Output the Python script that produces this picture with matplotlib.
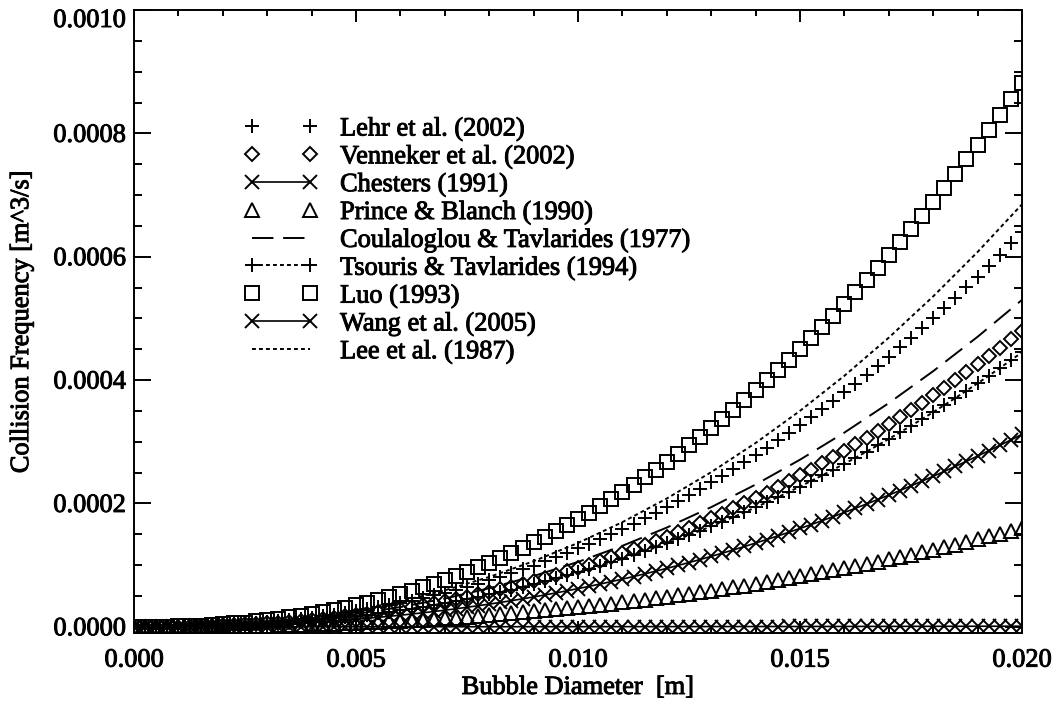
import numpy as np
import matplotlib
matplotlib.use('Agg')
from matplotlib import pyplot as plt
from matplotlib import patheffects
from matplotlib.ticker import MultipleLocator, FormatStrFormatter

plt.rcParams['font.family'] = ['Liberation Serif', 'DejaVu Serif']
plt.rcParams['font.size'] = 19

# bubble diameter [mm], one sample every 0.25 mm
diameter_mm = [0.0, 0.25, 0.5, 0.75, 1.0, 1.25, 1.5, 1.75, 2.0, 2.25,
               2.5, 2.75, 3.0, 3.25, 3.5, 3.75, 4.0, 4.25, 4.5, 4.75,
               5.0, 5.25, 5.5, 5.75, 6.0, 6.25, 6.5, 6.75, 7.0, 7.25,
               7.5, 7.75, 8.0, 8.25, 8.5, 8.75, 9.0, 9.25, 9.5, 9.75,
               10.0, 10.25, 10.5, 10.75, 11.0, 11.25, 11.5, 11.75, 12.0, 12.25,
               12.5, 12.75, 13.0, 13.25, 13.5, 13.75, 14.0, 14.25, 14.5, 14.75,
               15.0, 15.25, 15.5, 15.75, 16.0, 16.25, 16.5, 16.75, 17.0, 17.25,
               17.5, 17.75, 18.0, 18.25, 18.5, 18.75, 19.0, 19.25, 19.5, 19.75,
               20.0]
# coarser grid for the curves drawn without symbols
diameter_line_mm = [0, 1, 2, 3, 4, 5, 6, 7, 8, 9, 10,
                    11, 12, 13, 14, 15, 16, 17, 18, 19, 20]

# collision frequency, in units of 1e-6 m^3/s
lehr = [0.0, 0.02, 0.12, 0.30, 0.59, 0.99, 1.52, 2.18, 2.97, 3.91,
        5.00, 6.25, 7.65, 9.22, 10.96, 12.88, 14.97, 17.25, 19.71, 22.36,
        25.20, 28.24, 31.48, 34.91, 38.56, 42.41, 46.48, 50.76, 55.25, 59.96,
        64.90, 70.08, 75.46, 81.09, 86.91, 92.99, 99.33, 105.9, 112.6, 119.7,
        127.0, 134.5, 142.3, 150.3, 158.6, 167.2, 175.9, 185.0, 194.3, 203.9,
        213.8, 223.9, 234.2, 244.9, 255.8, 267.0, 278.5, 290.2, 302.2, 314.5,
        327.1, 340.0, 353.1, 366.5, 380.2, 394.2, 408.6, 423.1, 438.0, 453.2,
        468.7, 484.4, 500.5, 516.9, 533.6, 550.5, 567.8, 585.4, 603.3, 621.5,
        640.0]
venneker = [0.0, 0.02, 0.09, 0.23, 0.44, 0.74, 1.14, 1.63, 2.23, 2.93,
            3.75, 4.68, 5.74, 6.92, 8.22, 9.66, 11.23, 12.94, 14.78, 16.77,
            18.90, 21.18, 23.61, 26.18, 28.92, 31.81, 34.86, 38.07, 41.44, 44.97,
            48.67, 52.56, 56.59, 60.82, 65.18, 69.74, 74.50, 79.39, 84.48, 89.76,
            95.23, 100.9, 106.8, 112.8, 118.9, 125.4, 132.0, 138.8, 145.7, 152.9,
            160.3, 167.9, 175.7, 183.6, 191.9, 200.3, 208.8, 217.6, 226.7, 235.9,
            245.3, 255.0, 264.8, 274.9, 285.2, 295.7, 306.4, 317.3, 328.5, 339.9,
            351.5, 363.3, 375.4, 387.6, 400.2, 412.9, 425.9, 439.1, 452.4, 466.1,
            480.0]
chesters = [0.0, 0.01, 0.06, 0.15, 0.29, 0.48, 0.74, 1.06, 1.45, 1.91,
            2.44, 3.04, 3.73, 4.50, 5.34, 6.28, 7.30, 8.41, 9.61, 10.90,
            12.28, 13.77, 15.34, 17.02, 18.80, 20.68, 22.66, 24.74, 26.93, 29.23,
            31.64, 34.16, 36.78, 39.53, 42.37, 45.33, 48.42, 51.60, 54.91, 58.34,
            61.90, 65.58, 69.39, 73.29, 77.31, 81.49, 85.77, 90.20, 94.72, 99.40,
            104.2, 109.1, 114.2, 119.4, 124.7, 130.2, 135.8, 141.5, 147.3, 153.3,
            159.5, 165.7, 172.1, 178.7, 185.4, 192.2, 199.2, 206.3, 213.5, 220.9,
            228.5, 236.2, 244.0, 252.0, 260.1, 268.4, 276.8, 285.4, 294.1, 303.0,
            312.0]
prince_blanch = [0.0, 0.01, 0.03, 0.08, 0.15, 0.25, 0.38, 0.54, 0.74, 0.98,
                 1.25, 1.56, 1.91, 2.31, 2.74, 3.22, 3.74, 4.31, 4.93, 5.59,
                 6.30, 7.06, 7.87, 8.73, 9.64, 10.60, 11.62, 12.69, 13.81, 14.99,
                 16.22, 17.52, 18.86, 20.27, 21.73, 23.25, 24.83, 26.46, 28.16, 29.92,
                 31.74, 33.63, 35.58, 37.58, 39.65, 41.79, 43.98, 46.26, 48.58, 50.98,
                 53.44, 55.97, 58.56, 61.22, 63.95, 66.75, 69.62, 72.54, 75.55, 78.62,
                 81.78, 84.99, 88.27, 91.63, 95.06, 98.56, 102.1, 105.8, 109.5, 113.3,
                 117.2, 121.1, 125.1, 129.2, 133.4, 137.6, 141.9, 146.4, 150.8, 155.4,
                 160.0]
coulaloglou = [0.0, 0.49, 2.46, 6.34, 12.40, 20.87, 31.93, 45.75, 62.49, 82.26,
               105.2, 131.3, 160.9, 194.0, 230.6, 270.9, 314.9, 362.7, 414.5, 470.2,
               530.0]
tsouris = [0.0, 0.02, 0.08, 0.21, 0.41, 0.69, 1.06, 1.51, 2.07, 2.72,
           3.48, 4.34, 5.32, 6.41, 7.62, 8.95, 10.41, 11.99, 13.70, 15.54,
           17.52, 19.63, 21.89, 24.27, 26.81, 29.49, 32.32, 35.29, 38.42, 41.69,
           45.12, 48.73, 52.47, 56.38, 60.43, 64.66, 69.06, 73.60, 78.32, 83.22,
           88.29, 93.54, 98.97, 104.5, 110.3, 116.2, 122.3, 128.6, 135.1, 141.8,
           148.6, 155.7, 162.9, 170.3, 177.9, 185.7, 193.6, 201.8, 210.1, 218.7,
           227.4, 236.4, 245.5, 254.9, 264.4, 274.1, 284.1, 294.2, 304.6, 315.1,
           325.9, 336.8, 348.0, 359.4, 371.0, 382.8, 394.8, 407.0, 419.5, 432.1,
           445.0]
luo = [0.0, 0.03, 0.16, 0.41, 0.81, 1.37, 2.09, 3.00, 4.09, 5.38,
       6.88, 8.60, 10.53, 12.70, 15.09, 17.73, 20.61, 23.74, 27.13, 30.77,
       34.68, 38.87, 43.33, 48.06, 53.08, 58.38, 63.98, 69.87, 76.06, 82.54,
       89.33, 96.47, 103.9, 111.6, 119.6, 128.0, 136.7, 145.7, 155.1, 164.7,
       174.8, 185.2, 195.9, 206.9, 218.3, 230.1, 242.2, 254.7, 267.5, 280.7,
       294.3, 308.2, 322.4, 337.1, 352.1, 367.6, 383.3, 399.4, 416.0, 432.9,
       450.3, 468.0, 486.0, 504.5, 523.4, 542.7, 562.4, 582.4, 603.0, 623.8,
       645.2, 666.8, 688.9, 711.5, 734.5, 757.8, 781.6, 805.9, 830.4, 855.5,
       881.0]
wang = [0.0, 0.00, 0.00, 0.00, 0.00, 0.00, 0.00, 0.00, 0.00, 0.01,
        0.01, 0.01, 0.01, 0.01, 0.02, 0.02, 0.02, 0.03, 0.03, 0.03,
        0.04, 0.04, 0.05, 0.05, 0.06, 0.07, 0.07, 0.08, 0.09, 0.09,
        0.10, 0.11, 0.12, 0.13, 0.14, 0.15, 0.16, 0.17, 0.18, 0.19,
        0.20, 0.21, 0.22, 0.23, 0.25, 0.26, 0.27, 0.29, 0.30, 0.32,
        0.33, 0.35, 0.37, 0.38, 0.40, 0.42, 0.44, 0.45, 0.47, 0.49,
        0.51, 0.53, 0.55, 0.57, 0.59, 0.62, 0.64, 0.66, 0.68, 0.71,
        0.73, 0.76, 0.78, 0.81, 0.83, 0.86, 0.89, 0.91, 0.94, 0.97,
        1.00]
lee = [0.0, 0.63, 3.18, 8.19, 16.02, 26.97, 41.27, 59.14, 80.76, 106.3,
       135.9, 169.7, 208.0, 250.7, 298.0, 350.1, 407.0, 468.8, 535.7, 607.7,
       685.0]

d = np.array(diameter_mm) * 1e-3
dl = np.array(diameter_line_mm) * 1e-3
u = 1e-6

fig = plt.figure(figsize=(10.56, 7.04), dpi=100)
ax = fig.add_axes([0.1269, 0.1009, 0.8409, 0.8849])

sym = dict(color='k', mew=1.4, mfc='none')
ax.plot(d, np.array(lehr) * u, ls='none', marker='+', ms=10, label='Lehr et al. (2002)', **sym)
ax.plot(d, np.array(venneker) * u, ls='none', marker='D', ms=7.5, label='Venneker et al. (2002)', **sym)
ax.plot(d, np.array(chesters) * u, ls='-', lw=1.2, marker='x', ms=10, label='Chesters (1991)', **sym)
ax.plot(d, np.array(prince_blanch) * u, ls='none', marker='^', ms=10, label='Prince & Blanch (1990)', **sym)
ax.plot(dl, np.array(coulaloglou) * u, ls=(0, (11, 5)), lw=1.4, color='k',
        label='Coulaloglou & Tavlarides (1977)')
ax.plot(d, np.array(tsouris) * u, ls=(0, (2, 1.6)), lw=1.4, marker='+', ms=10,
        label='Tsouris & Tavlarides (1994)', **sym)
ax.plot(d, np.array(luo) * u, ls='none', marker='s', ms=10.5, label='Luo (1993)', **sym)
ax.plot(d, np.array(wang) * u, ls='-', lw=1.2, marker='x', ms=10, label='Wang et al. (2005)', **sym)
ax.plot(dl, np.array(lee) * u, ls=(0, (2, 1.6)), lw=1.4, color='k', label='Lee et al. (1987)')

ax.set_xlim(0, 0.02)
ax.set_ylim(-1e-5, 1e-3)
ax.xaxis.set_major_locator(MultipleLocator(0.005))
ax.xaxis.set_minor_locator(MultipleLocator(0.001))
ax.yaxis.set_major_locator(MultipleLocator(0.0002))
ax.yaxis.set_minor_locator(MultipleLocator(0.00005))
ax.xaxis.set_major_formatter(FormatStrFormatter('%.3f'))
ax.yaxis.set_major_formatter(FormatStrFormatter('%.4f'))

for s in ax.spines.values():
    s.set_linewidth(1.4)
ax.tick_params(which='both', direction='in', top=True, right=True, width=1.4)
ax.tick_params(axis='y', which='major', length=12.2, pad=6)
ax.tick_params(axis='y', which='minor', length=5.8)
ax.tick_params(axis='x', which='major', length=8.6, pad=12)
ax.tick_params(axis='x', which='minor', length=4.5)

ax.set_xlabel('Bubble Diameter  [m]')
ax.xaxis.set_label_coords(0.5, -0.0883)
ax.xaxis.label.set_va('center')
ax.set_ylabel('Collision Frequency [m^3/s]')
ax.yaxis.set_label_coords(-0.126, 0.5)
ax.yaxis.label.set_va('center')

leg = ax.legend(loc='upper left', bbox_to_anchor=(244 / 1056, 1 - 117 / 704),
                bbox_transform=fig.transFigure, frameon=False, numpoints=2,
                handlelength=2.8, handletextpad=0.84, labelspacing=0.15,
                borderpad=0, borderaxespad=0, fontsize=19)

# keep the top label inside the frame
fig.canvas.draw()
for t in ax.yaxis.get_major_ticks():
    if abs(t.get_loc() - 1e-3) < 1e-9:
        t.label1.set_va('top')

# slightly heavier glyphs
heavy = [patheffects.withStroke(linewidth=0.7, foreground='k')]
texts = ax.get_xticklabels() + ax.get_yticklabels() + leg.get_texts()
texts += [ax.xaxis.label, ax.yaxis.label]
for t in texts:
    t.set_path_effects(heavy)

fig.savefig('out.png', dpi=100)
